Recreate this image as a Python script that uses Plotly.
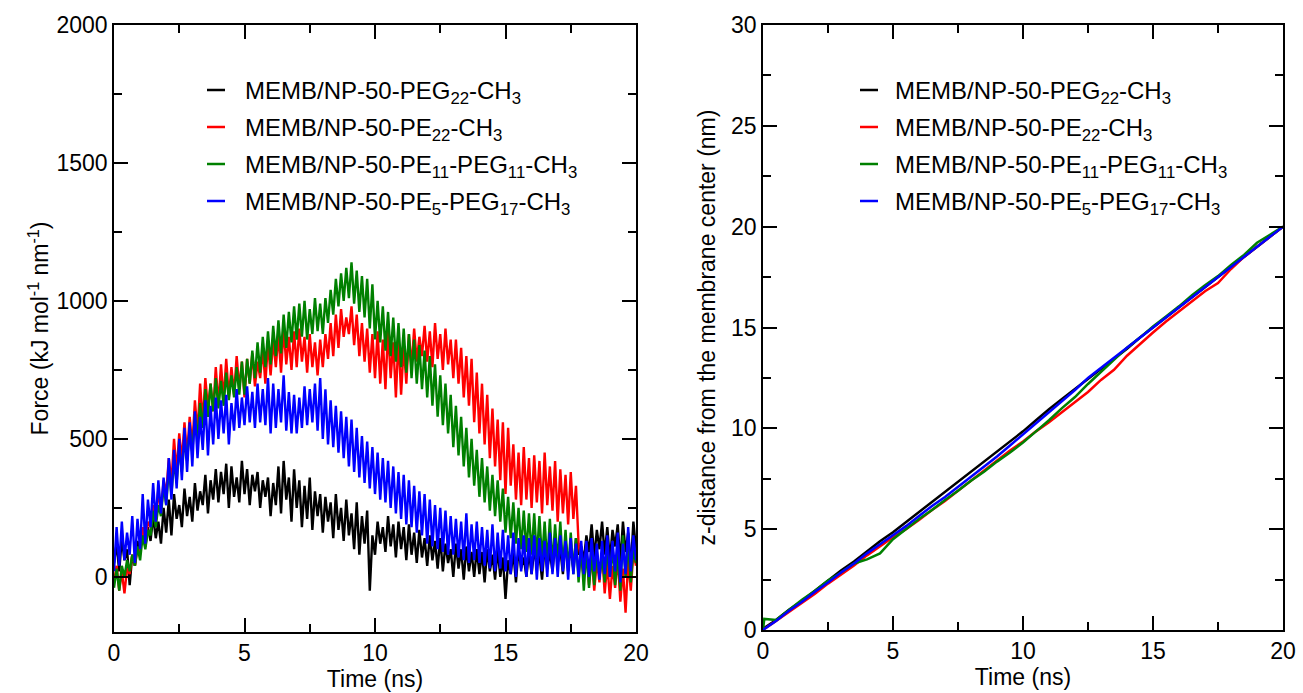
import plotly.graph_objects as go

# ---------------- data ----------------
time_force = [round(i * 0.1, 1) for i in range(201)]

force_peg22 = [
    50, 120, 20, 140, 60, 100, -30, 80, 40, 130,
    90, 160, 110, 180, 130, 220, 140, 200, 120, 250,
    160, 280, 150, 300, 210, 260, 180, 320, 220, 290,
    200, 340, 240, 310, 260, 370, 230, 350, 280, 390,
    270, 380, 300, 410, 250, 400, 290, 360, 270, 420,
    300, 390, 260, 370, 310, 380, 250, 350, 290, 360,
    220, 340, 260, 400, 230, 420, 280, 360, 200, 390,
    250, 350, 180, 330, 210, 360, 170, 310, 220, 300,
    160, 290, 200, 270, 140, 300, 170, 250, 130, 280,
    150, 230, 100, 270, 80, 220, 120, 240, -50, 150,
    80, 200, 120, 180, 90, 220, 110, 190, 70, 200,
    100, 180, 60, 190, 80, 160, 50, 170, 70, 140,
    40, 150, 60, 130, 30, 140, 20, 120, 50, 100,
    0, 120, 30, 100, -10, 110, 20, 90, 0, 100,
    10, 90, -20, 100, 20, 80, -10, 100, 0, 70,
    -80, 60, 10, 90, -20, 100, 30, 70, 0, 90,
    10, 100, 40, 80, -10, 110, 30, 90, 20, 120,
    50, 100, 10, 130, 60, 90, 30, 140, 80, 110,
    60, 150, 90, 190, 70, 170, 100, 200, 80, 180,
    60, 170, 110, 190, 50, 200, 90, 160, 30, 200,
    100,
]

force_pe22 = [
    -20, 40, -50, 20, -60, 30, 10, 80, 40, 100,
    90, 180, 130, 200, 180, 260, 200, 320, 230, 350,
    300, 430, 340, 500, 380, 520, 420, 560, 440, 580,
    470, 640, 520, 700, 560, 720, 610, 700, 600, 760,
    620, 770, 640, 790, 650, 760, 660, 800, 680, 780,
    650, 790, 700, 810, 690, 780, 720, 830, 700, 850,
    730, 860, 760, 880, 740, 900, 770, 870, 750, 890,
    760, 900, 780, 870, 740, 880, 760, 850, 730, 860,
    760, 880, 790, 920, 800, 950, 830, 970, 870, 940,
    880, 980, 840, 950, 800, 920, 780, 900, 740, 880,
    720, 890, 700, 860, 680, 900, 720, 850, 650, 870,
    660, 840, 700, 880, 760, 900, 780, 870, 800, 910,
    780, 890, 760, 920, 790, 880, 750, 900, 770, 860,
    720, 860, 700, 830, 650, 800, 620, 790, 560, 740,
    520, 700, 480, 660, 430, 610, 400, 570, 350, 560,
    300, 540, 330, 480, 280, 450, 260, 470, 280, 430,
    250, 440, 270, 420, 230, 450, 260, 400, 240, 420,
    200, 390, 230, 370, 190, 380, 210, 330, 120, 50,
    0, 100, -30, 80, -50, 60, -20, 90, -60, 50,
    -80, 40, -40, 70, -90, 30, -130, 60, -50, 90,
    40,
]

force_pe11_peg11 = [
    -40, 30, -50, 40, 0, 60, 20, 80, 40, 110,
    60, 150, 100, 170, 150, 240, 180, 260, 220, 330,
    260, 390, 300, 420, 340, 470, 380, 500, 420, 540,
    450, 590, 500, 630, 540, 680, 580, 700, 600, 720,
    610, 710, 620, 740, 640, 730, 650, 760, 660, 780,
    660, 790, 700, 820, 720, 850, 740, 870, 760, 890,
    770, 910, 800, 930, 810, 950, 830, 960, 850, 980,
    860, 990, 870, 1000, 860, 970, 880, 1010, 890, 990,
    880, 1010, 920, 1040, 950, 1080, 980, 1100, 1000, 1120,
    1010, 1140, 990, 1110, 960, 1090, 940, 1080, 900, 1060,
    860, 1000, 850, 980, 820, 960, 800, 940, 780, 920,
    760, 900, 740, 880, 720, 860, 700, 840, 680, 820,
    650, 800, 620, 770, 580, 730, 550, 700, 520, 660,
    470, 620, 440, 580, 400, 540, 360, 500, 330, 460,
    290, 430, 270, 400, 240, 370, 220, 350, 200, 320,
    160, 290, 140, 270, 120, 250, 100, 240, 90, 230,
    80, 230, 70, 220, 60, 200, 50, 210, 40, 190,
    50, 200, 30, 170, 20, 160, 10, 140, -20, 110,
    -50, 100, -40, 80, -30, 90, 0, 70, -20, 100,
    0, 110, -30, 90, -50, 150, 0, 120, -20, 100,
    50,
]

force_pe5_peg17 = [
    20, 180, 40, 200, 60, 160, 80, 220, 50, 210,
    100, 300, 120, 280, 180, 340, 200, 350, 230, 360,
    260, 430, 280, 460, 320, 500, 350, 540, 380, 560,
    400, 600, 430, 580, 460, 640, 440, 620, 480, 650,
    500, 640, 520, 660, 480, 630, 530, 680, 540, 650,
    550, 690, 560, 670, 540, 700, 560, 680, 550, 720,
    520, 700, 540, 680, 560, 730, 530, 670, 520, 660,
    520, 650, 540, 690, 550, 680, 560, 700, 530, 720,
    500, 680, 480, 640, 470, 620, 450, 600, 430, 580,
    400, 570, 380, 540, 360, 510, 340, 490, 320, 470,
    300, 450, 280, 430, 270, 420, 250, 400, 230, 380,
    210, 370, 190, 350, 180, 330, 160, 310, 150, 300,
    120, 280, 110, 260, 100, 250, 90, 240, 80, 220,
    80, 210, 70, 200, 60, 230, 50, 190, 60, 200,
    50, 180, 40, 170, 30, 190, 20, 160, 30, 170,
    20, 150, 10, 160, 0, 140, 20, 150, 0, 140,
    10, 150, -10, 140, 20, 130, 0, 160, 10, 140,
    0, 150, 20, 130, -10, 140, 10, 120, 0, 130,
    10, 130, 0, 140, 20, 120, -10, 130, 10, 150,
    0, 130, 20, 160, -20, 120, 10, 180, 20, 150,
    60,
]

time_z = [0, 0.05, 0.5, 1, 1.5, 2, 2.5, 3, 3.5, 4, 4.5, 5, 5.5, 6, 6.5, 7, 7.5, 8, 8.5, 9, 9.5,
          10, 10.5, 11, 11.5, 12, 12.5, 13, 13.5, 14, 14.5, 15, 15.5, 16, 16.5, 17, 17.5, 18,
          18.5, 19, 19.5, 20]
z_peg22 = [0.0, 0.1, 0.5, 1.0, 1.45, 1.95, 2.45, 2.95, 3.4, 3.9, 4.4, 4.85, 5.35, 5.85, 6.35,
           6.85, 7.35, 7.85, 8.35, 8.85, 9.35, 9.85, 10.4, 10.95, 11.45, 11.95, 12.45, 12.95,
           13.45, 13.95, 14.5, 15.0, 15.5, 16.0, 16.5, 17.0, 17.5, 18.0, 18.5, 19.0, 19.5, 20.0]
z_pe22 = [0.0, 0.05, 0.45, 0.9, 1.35, 1.8, 2.3, 2.75, 3.2, 3.7, 4.15, 4.6, 5.0, 5.45, 5.95,
          6.4, 6.9, 7.4, 7.9, 8.4, 8.9, 9.35, 9.85, 10.3, 10.8, 11.3, 11.8, 12.4, 12.9, 13.6,
          14.2, 14.75, 15.3, 15.8, 16.3, 16.8, 17.2, 17.9, 18.5, 19.0, 19.5, 20.0]
z_pe11_peg11 = [0.0, 0.55, 0.5, 1.0, 1.5, 1.95, 2.45, 2.85, 3.3, 3.5, 3.8, 4.5, 5.0, 5.5, 5.95,
                6.45, 6.9, 7.4, 7.85, 8.35, 8.8, 9.3, 9.85, 10.4, 11.0, 11.55, 12.2, 12.8, 13.4,
                14.0, 14.5, 15.05, 15.55, 16.05, 16.6, 17.1, 17.55, 18.1, 18.6, 19.2, 19.6, 20.0]
z_pe5_peg17 = [0.0, 0.05, 0.45, 0.95, 1.4, 1.9, 2.35, 2.85, 3.3, 3.8, 4.25, 4.7, 5.15, 5.65,
               6.15, 6.6, 7.1, 7.6, 8.1, 8.6, 9.15, 9.7, 10.25, 10.8, 11.35, 11.9, 12.5, 13.0,
               13.5, 14.0, 14.5, 15.0, 15.5, 16.0, 16.5, 17.0, 17.5, 18.0, 18.5, 19.0, 19.5, 20.0]

labels = [
    "MEMB/NP-50-PEG<sub>22</sub>-CH<sub>3</sub>",
    "MEMB/NP-50-PE<sub>22</sub>-CH<sub>3</sub>",
    "MEMB/NP-50-PE<sub>11</sub>-PEG<sub>11</sub>-CH<sub>3</sub>",
    "MEMB/NP-50-PE<sub>5</sub>-PEG<sub>17</sub>-CH<sub>3</sub>",
]
colors = ["#000000", "#ff0000", "#008000", "#0000ff"]

force_series = [force_peg22, force_pe22, force_pe11_peg11, force_pe5_peg17]
z_series = [z_peg22, z_pe22, z_pe11_peg11, z_pe5_peg17]

# ---------------- figure ----------------
FONT = "Liberation Sans, Arial, Helvetica, sans-serif"
W, H = 1303, 693

fig = go.Figure()
for lab, col, ys in zip(labels, colors, force_series):
    fig.add_trace(go.Scatter(x=time_force, y=ys, mode="lines", name=lab,
                             line=dict(color=col, width=2.4), showlegend=False,
                             xaxis="x", yaxis="y"))
for lab, col, ys in zip(labels, colors, z_series):
    fig.add_trace(go.Scatter(x=time_z, y=ys, mode="lines", name=lab,
                             line=dict(color=col, width=2.5), showlegend=False,
                             xaxis="x2", yaxis="y2"))


def px_x(p):
    return p / W


def px_y(p):
    return 1 - p / H


axis_common = dict(
    showline=True, linecolor="black", linewidth=1.5, mirror="allticks",
    ticks="inside", ticklen=14, tickwidth=1.5, tickcolor="black",
    showgrid=False, zeroline=False, automargin=False,
    tickfont=dict(family=FONT, size=23, color="black"),
)
minor_common = dict(ticklen=8, tickwidth=1.5, tickcolor="black", ticks="inside")
title_font = dict(family=FONT, size=23, color="black")

fig.update_layout(
    width=W, height=H,
    margin=dict(l=0, r=0, t=0, b=0),
    paper_bgcolor="white", plot_bgcolor="white",
    font=dict(family=FONT, color="black"),
    xaxis=dict(domain=[px_x(114), px_x(636)], range=[0, 20], dtick=5, anchor="y",
               minor=dict(dtick=2.5, **minor_common),
               title=dict(text="Time (ns)", font=title_font, standoff=2),
               **axis_common),
    yaxis=dict(domain=[px_y(632), px_y(25)], range=[-200, 2000],
               tickvals=[0, 500, 1000, 1500, 2000], anchor="x",
               minor=dict(tickvals=[-250, 250, 750, 1250, 1750], **minor_common),
               title=dict(text="Force (kJ mol<sup>-1</sup> nm<sup>-1</sup>)", font=title_font, standoff=1),
               **axis_common),
    xaxis2=dict(domain=[px_x(763), px_x(1283)], range=[0, 20], dtick=5, anchor="y2",
                minor=dict(dtick=2.5, **minor_common),
                title=dict(text="Time (ns)", font=title_font, standoff=2),
                **axis_common),
    yaxis2=dict(domain=[px_y(630), px_y(25)], range=[0, 30], dtick=5, anchor="x2",
                minor=dict(dtick=2.5, **minor_common),
                title=dict(text="z-distance from the membrane center (nm)", font=title_font, standoff=9),
                **axis_common),
)

# legends (line sample + text in each panel)
row_y = [90, 127, 164, 201]
for line_x0, text_x in [(207, 243), (860, 893)]:
    for lab, col, ry in zip(labels, colors, row_y):
        fig.add_shape(type="line", xref="paper", yref="paper",
                      x0=px_x(line_x0), x1=px_x(line_x0 + 18),
                      y0=px_y(ry), y1=px_y(ry), line=dict(color=col, width=2.5))
        fig.add_annotation(xref="paper", yref="paper", x=px_x(text_x), y=px_y(ry - 15),
                           xanchor="left", yanchor="top", showarrow=False,
                           text=lab, font=dict(family=FONT, size=24, color="black"))

fig.write_html("out.html", config={"displayModeBar": False},
               post_script="document.body.style.margin='0px';document.body.style.overflow='hidden';")
